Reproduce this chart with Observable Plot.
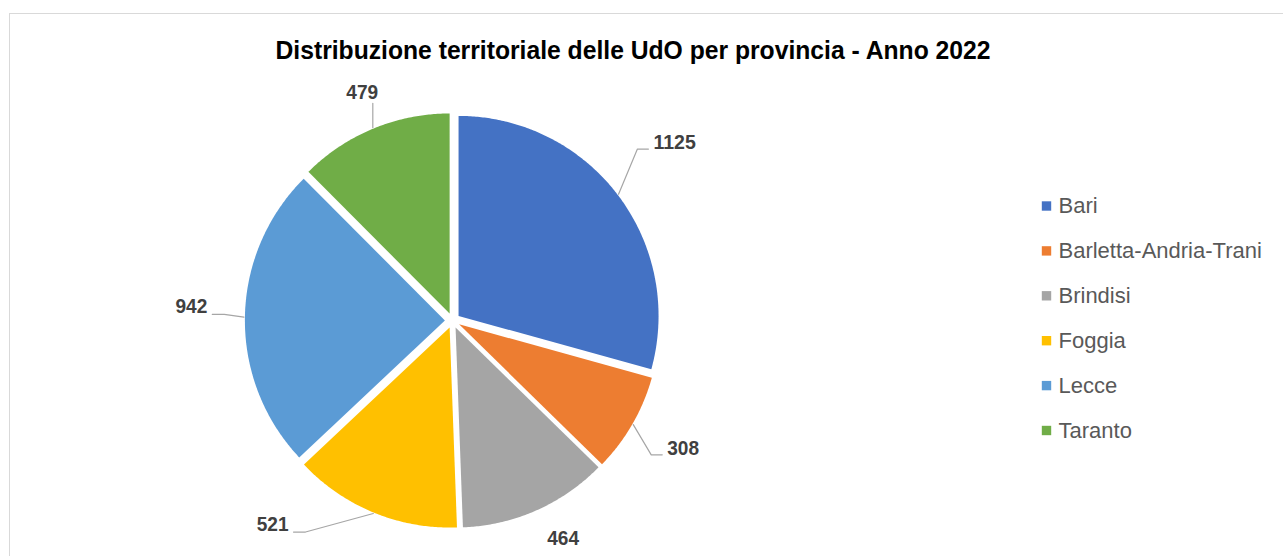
<!DOCTYPE html>
<html><head><meta charset="utf-8">
<script src="https://cdn.jsdelivr.net/npm/d3@7"></script>
<script src="https://cdn.jsdelivr.net/npm/@observablehq/plot@0.6"></script>
<style>
html,body{margin:0;padding:0;background:#fff;overflow:hidden;width:1283px;height:556px}
#wrap{position:relative;width:1283px;height:556px;overflow:hidden}
#border{position:absolute;left:9px;top:13px;width:1400px;height:700px;border:1px solid #d9d9d9;box-sizing:border-box}
#chart{position:absolute;left:0;top:0}
</style></head><body>
<div id="wrap"><div id="border"></div><div id="chart"></div></div>
<script>
// ---- data ----
const provinces = ["Bari", "Barletta-Andria-Trani", "Brindisi", "Foggia", "Lecce", "Taranto"];
const counts = [1125, 308, 464, 521, 942, 479];
const colors = ["#4472C4", "#ED7D31", "#A5A5A5", "#FFC000", "#5B9BD5", "#70AD47"];
const chartTitle = "Distribuzione territoriale delle UdO per provincia - Anno 2022";

// ---- layout (pixels) ----
const W = 1283, H = 556, CX = 452, CY = 320, R = 200, EXPLODE = 7.6;
// label placement: [angle in degrees clockwise from top, distance from centre in px]
const labelLayout = [[51.3, 284.6], [119.0, 263.7], [153.1, 244.4], [221.4, 272], [273.0, 261.5], [338.4, 245.3]];
const LEG_X = 1046, LEG_Y0 = 205.5, LEG_DY = 44.9;
const TITLE_X = 632.5, TITLE_Y = 50.5, TITLE_W = 715;

const toU = px => (px - CX) / R, toV = py => (CY - py) / R;

const total = d3.sum(counts);
let acc = 0;
const slices = provinces.map((name, i) => {
  const a0 = acc / total * 2 * Math.PI; acc += counts[i];
  const a1 = acc / total * 2 * Math.PI;
  return {name, value: counts[i], a0, a1, mid: (a0 + a1) / 2};
});

const e = EXPLODE / R;
const polyPts = [];
for (const s of slices) {
  const ox = e * Math.sin(s.mid), oy = e * Math.cos(s.mid);
  polyPts.push({name: s.name, u: ox, v: oy});
  const n = Math.max(2, Math.ceil((s.a1 - s.a0) / (Math.PI / 360)));
  for (let k = 0; k <= n; k++) {
    const a = s.a0 + (s.a1 - s.a0) * k / n;
    polyPts.push({name: s.name, u: ox + Math.sin(a), v: oy + Math.cos(a)});
  }
  polyPts.push({name: s.name, u: ox, v: oy});
}

// labels and leader lines (computed in pixels, converted to data units)
const FS = 20, CW = 10.6;
const labels = [], leaders = [];
slices.forEach((s, i) => {
  const [ang, dist] = labelLayout[i];
  const a = ang * Math.PI / 180;
  const lx = CX + dist * Math.sin(a), ly = CY - dist * Math.cos(a);
  labels.push({name: s.name, text: String(s.value), u: toU(lx), v: toV(ly)});
  const ex = CX + (EXPLODE + R + 1) * Math.sin(s.mid), ey = CY - (EXPLODE + R + 1) * Math.cos(s.mid);
  const hw = String(s.value).length * CW / 2;
  const pts = [];
  if (Math.abs(lx - ex) < hw + 4 && ey > ly) {
    pts.push([ex, ey], [ex, ly + 11]);
  } else if (Math.hypot(lx - ex, ly - ey) < 45) {
    // too close: no leader line
  } else if (lx > ex) {
    const ax = lx - hw - 5, ay = ly + 6.5;
    pts.push([ex, ey], [ax - 11, ay], [ax, ay]);
  } else {
    const ax = lx + hw + 5, ay = ly + 7.5;
    pts.push([ex, ey], [ax + 12, ay], [ax, ay]);
  }
  for (const [x, y] of pts) leaders.push({name: s.name, u: toU(x), v: toV(y)});
});

const legend = provinces.map((p, i) => ({name: p, u: toU(LEG_X), v: toV(LEG_Y0 + i * LEG_DY), ut: toU(LEG_X + 12)}));

const plot = Plot.plot({
  width: W, height: H, margin: 0,
  style: {background: "transparent", overflow: "visible"},
  x: {domain: [toU(0), toU(W)], axis: null},
  y: {domain: [toV(H), toV(0)], axis: null},
  color: {domain: provinces, range: colors},
  marks: [
    Plot.line(polyPts, {x: "u", y: "v", z: "name", fill: "name", stroke: "none", curve: "linear"}),
    Plot.line(leaders, {x: "u", y: "v", z: "name", stroke: "#a6a6a6", strokeWidth: 1.2, curve: "linear"}),
    Plot.text(labels, {x: "u", y: "v", text: "text", fill: "#404040", fontSize: FS, fontWeight: "bold",
      fontFamily: "'Liberation Sans', Arial, sans-serif"}),
    Plot.dot(legend, {x: "u", y: "v", fill: "name", symbol: "square", r: 5.3, stroke: "none"}),
    Plot.text(legend, {x: "ut", y: "v", text: "name", textAnchor: "start", fill: "#595959", fontSize: 22,
      fontFamily: "'Liberation Sans', Arial, sans-serif"}),
    Plot.text([chartTitle], {x: toU(TITLE_X), y: toV(TITLE_Y), text: d => d, fill: "#000", fontSize: 26.5, fontWeight: "bold",
      fontFamily: "'Liberation Sans', Arial, sans-serif"})
  ]
});
// condense the bold texts to match the narrow typeface of the original
const valueStrings = new Set(counts.map(String));
plot.querySelectorAll("text").forEach(t => {
  const s = t.textContent;
  if (s === chartTitle) {
    t.setAttribute("textLength", TITLE_W);
    t.setAttribute("lengthAdjust", "spacingAndGlyphs");
  } else if (valueStrings.has(s)) {
    t.setAttribute("textLength", s.length * CW);
    t.setAttribute("lengthAdjust", "spacingAndGlyphs");
  }
});
document.getElementById("chart").appendChild(plot);
</script>
</body></html>
